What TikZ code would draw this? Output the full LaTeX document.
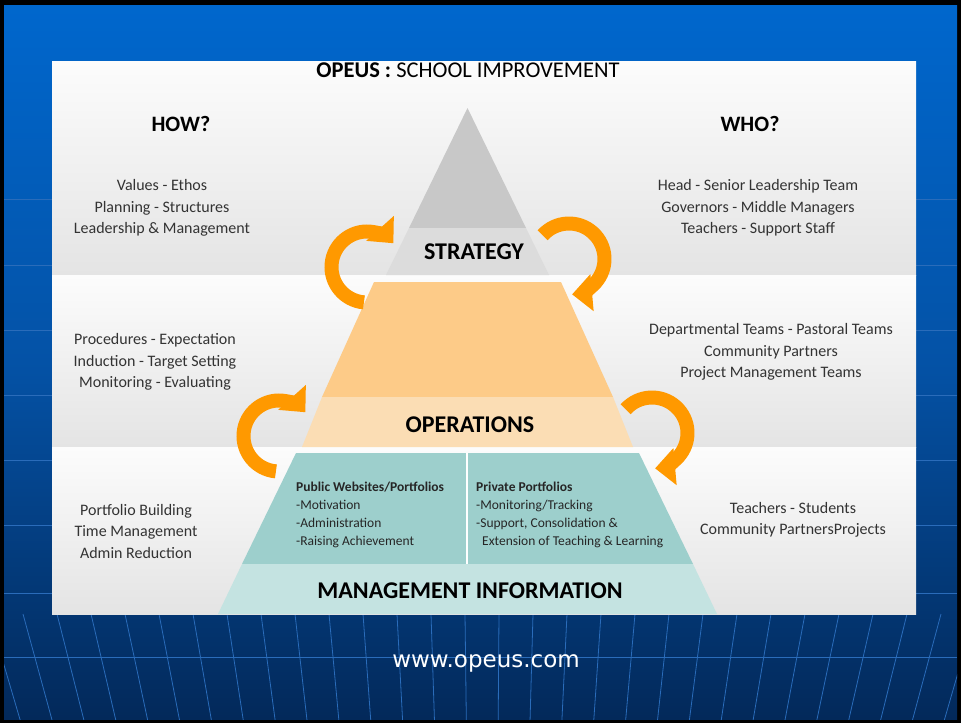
\documentclass[tikz,border=0pt]{standalone}
\usepackage{fontspec}
\setmainfont{Carlito}
\newfontfamily\webfont{DejaVu Sans}
\usetikzlibrary{arrows.meta}
\definecolor{bgtop}{HTML}{0067CD}
\definecolor{bgmid}{HTML}{0452A6}
\definecolor{bgbot}{HTML}{03295A}
\definecolor{gridblue}{HTML}{2A6CBA}
\definecolor{bandgray}{HTML}{E4E4E4}
\definecolor{bandwhite}{HTML}{FCFCFC}
\definecolor{topgray}{HTML}{C8C8C8}
\definecolor{stratgray}{HTML}{DCDCDC}
\definecolor{orangedark}{HTML}{FDCB88}
\definecolor{orangelight}{HTML}{FBDDB4}
\definecolor{tealdark}{HTML}{9DCFCC}
\definecolor{teallight}{HTML}{C4E3E1}
\definecolor{arroworange}{HTML}{FF9900}
\definecolor{bodytext}{HTML}{333333}
\tikzset{
  bodytxt/.style={text=bodytext, align=center, inner sep=0pt, font=\fontsize{16}{21.5}\selectfont},
  headtxt/.style={text=black, inner sep=0pt, font=\fontsize{22}{26}\selectfont\bfseries},
  layertxt/.style={text=black, inner sep=0pt, font=\fontsize{24}{28}\selectfont\bfseries},
  tealtxt/.style={text=black!85, align=left, inner sep=0pt, anchor=west, font=\fontsize{13.5}{18}\selectfont},
  cyclearrow/.style={draw=arroworange, line width=14pt, -{Triangle[length=20pt,width=36pt]}},
}
\begin{document}
\begin{tikzpicture}[x=1pt,y=-1pt]
\useasboundingbox (0,0) rectangle (961,723);
% frame and background
\fill[black] (0,0) rectangle (961,723);
\shade[top color=bgtop, bottom color=bgbot, middle color=bgmid] (4,5) rectangle (957,719);
\begin{scope}
  \clip (4,5) rectangle (957,719);
  \foreach \yy in {199,265,330,395,460,525,593,657}
    \draw[gridblue, line width=0.8pt] (4,\yy) -- (957,\yy);
  \foreach \i in {-2,...,27}{
    \pgfmathsetmacro{\xa}{57+34*\i}
    \pgfmathsetmacro{\xb}{\xa+(486-\xa)*0.0627}
    \draw[gridblue, line width=0.8pt] (\xa,614) -- (\xb,720);
  }
\end{scope}
% white panel with bands
\fill[white] (52,61) rectangle (916,614);
\shade[top color=bandwhite, bottom color=bandgray] (52,61) rectangle (916,275);
\shade[top color=bandwhite, bottom color=bandgray] (52,275) rectangle (916,447);
\shade[top color=bandwhite, bottom color=bandgray] (52,447) rectangle (916,614);
% pyramid
\fill[topgray] (467.5,108) -- (526,228) -- (409,228) -- cycle;
\fill[stratgray] (409,228) -- (526,228) -- (549,275) -- (386,275) -- cycle;
\fill[orangedark] (374,282) -- (561,282) -- (613,397) -- (322,397) -- cycle;
\fill[orangelight] (322,397) -- (613,397) -- (633,447) -- (302,447) -- cycle;
\fill[tealdark] (296,453) -- (639,453) -- (693,564) -- (242,564) -- cycle;
\fill[teallight] (242,564) -- (693,564) -- (717,614) -- (218,614) -- cycle;
\draw[white, line width=2pt] (467,453) -- (467,564);
% title
\node[inner sep=0pt, font=\fontsize{22.5}{26}\selectfont] (title) at (468,70) {\textbf{OPEUS :} SCHOOL IMPROVEMENT};
\node[headtxt] (how) at (181,124) {HOW?};
\node[headtxt] (who) at (750,124) {WHO?};
% side texts
\node[bodytxt] (l1) at (162,208) {Values - Ethos\\Planning - Structures\\Leadership \& Management};
\node[bodytxt] (l2) at (155,362) {Procedures - Expectation\\Induction - Target Setting\\Monitoring - Evaluating};
\node[bodytxt] (l3) at (136,531) {Portfolio Building\\Time Management\\Admin Reduction};
\node[bodytxt] (r1) at (758,208) {Head - Senior Leadership Team\\Governors - Middle Managers\\Teachers - Support Staff};
\node[bodytxt] (r2) at (771,352) {Departmental Teams - Pastoral Teams\\Community Partners\\Project Management Teams};
\node[bodytxt] (r3) at (793,520) {Teachers - Students\\Community PartnersProjects};
% layer labels
\node[layertxt] (strategy) at (474,252) {STRATEGY};
\node[layertxt] (operations) at (470,425) {OPERATIONS};
\node[layertxt] (mi) at (470,591) {MANAGEMENT INFORMATION};
% teal boxes
\node[tealtxt] (pub) at (296,515) {\textbf{Public Websites/Portfolios}\\-Motivation\\-Administration\\-Raising Achievement};
\node[tealtxt] (priv) at (476,515) {\textbf{Private Portfolios}\\-Monitoring/Tracking\\-Support, Consolidation \&\\\hspace*{6pt}Extension of Teaching \& Learning};
% cycle arrows
\draw[cyclearrow] (367,267) ++(95:35.5) arc[start angle=95, end angle=318, radius=35.5];
\draw[cyclearrow] (569,259) ++(222:35.5) arc[start angle=222, end angle=445, radius=35.5];
\draw[cyclearrow] (279,436) ++(95:35.5) arc[start angle=95, end angle=318, radius=35.5];
\draw[cyclearrow] (652,433) ++(222:35.5) arc[start angle=222, end angle=445, radius=35.5];
% footer
\node[inner sep=0pt, text=white, font=\webfont\fontsize{23}{26}\selectfont] (web) at (486,663) {www.opeus.com};
\end{tikzpicture}
\end{document}
